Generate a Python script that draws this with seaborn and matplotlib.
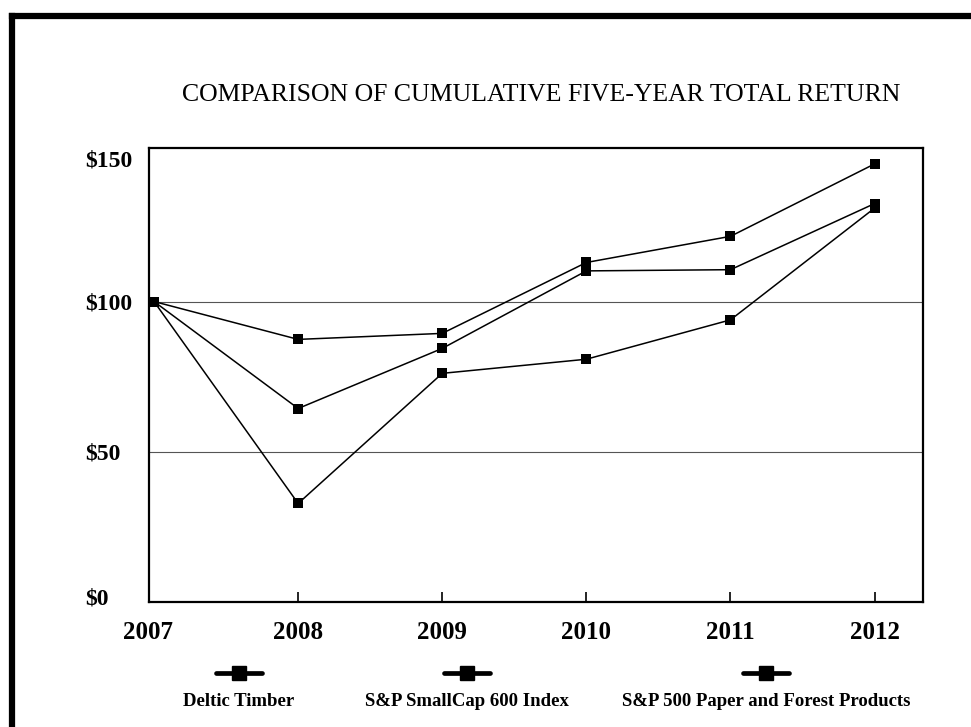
import matplotlib
matplotlib.use("Agg")
import matplotlib.pyplot as plt
import matplotlib.transforms as mtransforms
from matplotlib.lines import Line2D
import seaborn as sns
import pandas as pd

# ---- data ----
years = [2007, 2008, 2009, 2010, 2011, 2012]
series_names = ["Deltic Timber", "S&P SmallCap 600 Index", "S&P 500 Paper and Forest Products"]
deltic = [100, 87.4, 89.4, 113.0, 121.7, 145.8]
smallcap = [100, 64.4, 84.4, 110.2, 110.6, 132.6]
paper = [100, 32.8, 76.1, 80.8, 93.9, 131.1]
ytick_vals = [0, 50, 100, 150]
ytick_labels = ["$0", "$50", "$100", "$150"]
title = "COMPARISON OF CUMULATIVE FIVE-YEAR TOTAL RETURN"

df = pd.DataFrame({
    "year": years * 3,
    "value": deltic + smallcap + paper,
    "series": [series_names[0]] * 6 + [series_names[1]] * 6 + [series_names[2]] * 6,
})

sns.set_theme(style="white")
plt.rcParams["font.family"] = ["Liberation Serif", "DejaVu Serif"]
plt.rcParams["text.color"] = "black"
plt.rcParams["xtick.color"] = "black"
plt.rcParams["ytick.color"] = "black"
plt.rcParams["xtick.labelcolor"] = "black"
plt.rcParams["ytick.labelcolor"] = "black"

W, H = 971, 727
fig = plt.figure(figsize=(W / 100, H / 100), dpi=100)
L, R, T, B = 149, 923, 148, 602
ax = fig.add_axes([L / W, 1 - B / H, (R - L) / W, (B - T) / H])

# gridlines
for g in [50, 100]:
    ax.axhline(g, color="#555555", lw=0.8, zorder=1)

sns.lineplot(data=df, x="year", y="value", hue="series", style="series",
             palette=["black"] * 3, markers=["s"] * 3, dashes=False,
             markersize=7, markeredgewidth=0, linewidth=1.1, ax=ax,
             legend=False, zorder=3)

ax.set_xlim(2006.965, 2012.336)
ax.set_ylim(0, 151.1)
ax.set_xlabel("")
ax.set_ylabel("")

for s in ax.spines.values():
    s.set_visible(True)
    s.set_color("black")
    s.set_linewidth(1.6)

ax.set_xticks(years)
ax.set_xticklabels([str(y) for y in years], fontsize=18, fontweight="bold",
                   color="black")
ax.tick_params(axis="x", direction="in", length=7, width=1.2, color="black",
               labelcolor="black", pad=14, bottom=True)
ax.xaxis.get_major_ticks()[0].tick1line.set_visible(False)
lab0 = ax.get_xticklabels()[0]
lab0.set_transform(lab0.get_transform() +
                   mtransforms.ScaledTranslation(-6 / 100, 0, fig.dpi_scale_trans))

ax.set_yticks(ytick_vals)
ax.set_yticklabels(ytick_labels, fontsize=17, fontweight="bold", color="black")
ax.tick_params(axis="y", length=0, pad=46, left=True, labelcolor="black")
ylabs = ax.get_yticklabels()
for t in ylabs:
    t.set_horizontalalignment("left")
ylabs[0].set_transform(ylabs[0].get_transform() +
                       mtransforms.ScaledTranslation(0, 6 / 100, fig.dpi_scale_trans))
ylabs[3].set_transform(ylabs[3].get_transform() +
                       mtransforms.ScaledTranslation(0, -7 / 100, fig.dpi_scale_trans))

# title
fig.text(541 / W, 1 - 95 / H, title, ha="center", va="center", fontsize=18.5,
         color="black")

# legend (handle above label)
leg_x = [239, 467, 766]
for x, name in zip(leg_x, series_names):
    fig.add_artist(Line2D([(x - 23) / W, (x + 23) / W], [1 - 673 / H] * 2,
                          color="black", lw=3.4, transform=fig.transFigure))
    fig.add_artist(Line2D([x / W], [1 - 673 / H], marker="s", markersize=9.5,
                          color="black", transform=fig.transFigure))
    fig.text(x / W, 1 - 701 / H, name, ha="center", va="center", fontsize=13.5,
             fontweight="bold", color="black")

# outer frame (left and top edges)
fig.add_artist(Line2D([12 / W, 12 / W], [0, 1 - 16 / H], color="black", lw=4.5,
                      transform=fig.transFigure, solid_capstyle="projecting"))
fig.add_artist(Line2D([12 / W, 1], [1 - 16 / H, 1 - 16 / H], color="black", lw=4.5,
                      transform=fig.transFigure, solid_capstyle="projecting"))

fig.savefig("out.png", dpi=100, facecolor="white")
